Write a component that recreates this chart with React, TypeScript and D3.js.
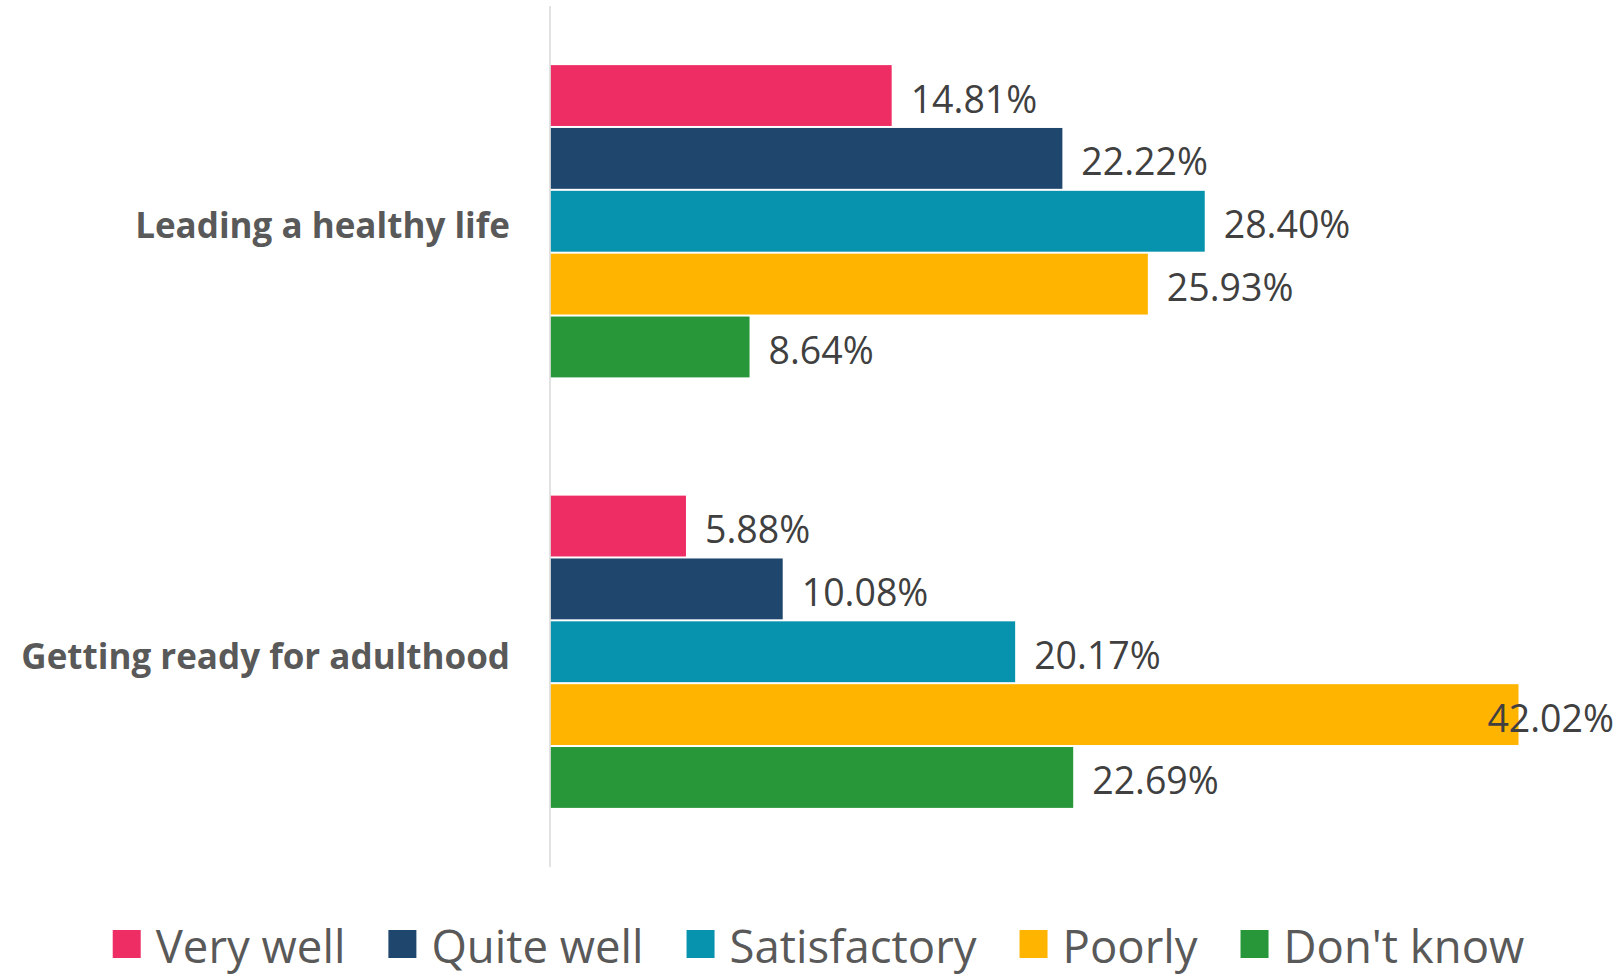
import React, { useEffect, useRef } from "react";
import * as d3 from "d3";

const categories = ["Leading a healthy life", "Getting ready for adulthood"];
const seriesNames = ["Very well", "Quite well", "Satisfactory", "Poorly", "Don't know"];
const veryWell = [14.81, 5.88];
const quiteWell = [22.22, 10.08];
const satisfactory = [28.4, 20.17];
const poorly = [25.93, 42.02];
const dontKnow = [8.64, 22.69];
const seriesColors = ["#EE2D64", "#1F476E", "#0793AD", "#FFB400", "#28973A"];

const W = 1622;
const H = 976;
const FONT = "'Open Sans', sans-serif";

export default function App() {
  const ref = useRef<SVGSVGElement | null>(null);

  useEffect(() => {
    const svg = d3.select(ref.current);
    svg.selectAll("*").remove();
    const seriesValues = [veryWell, quiteWell, satisfactory, poorly, dontKnow];

    const x0 = 550.5;
    const xMax = d3.max(seriesValues.flat()) as number;
    const x = d3.scaleLinear().domain([0, xMax]).range([x0, 1518.5]);
    const y = d3
      .scaleBand<string>()
      .domain(categories)
      .range([6, 867])
      .paddingInner(0.27)
      .paddingOuter(0.135);
    const ys = d3
      .scaleBand<string>()
      .domain(seriesNames)
      .range([0, y.bandwidth()])
      .padding(0);

    const rightLimit = 1614;

    categories.forEach((cat, ci) => {
      const g = svg.append("g").attr("transform", `translate(0,${y(cat)})`);
      seriesNames.forEach((s, si) => {
        const v = seriesValues[si][ci];
        const top = ys(s)!;
        const h = ys.bandwidth();
        g.append("rect")
          .attr("x", x(0))
          .attr("y", top + 1)
          .attr("width", x(v) - x(0))
          .attr("height", h - 2)
          .attr("fill", seriesColors[si]);
        const t = g
          .append("text")
          .attr("x", x(v) + 19)
          .attr("y", top + h / 2 + 17)
          .attr("font-family", FONT)
          .attr("font-size", 37.5)
          .attr("fill", "#404040")
          .text(v.toFixed(2) + "%");
        const tw = (t.node() as SVGTextElement).getComputedTextLength();
        if (x(v) + 19 + tw > rightLimit) {
          t.attr("x", rightLimit).attr("text-anchor", "end");
        }
      });
      svg
        .append("text")
        .attr("x", 510)
        .attr("y", y(cat)! + y.bandwidth() / 2 + 17)
        .attr("text-anchor", "end")
        .attr("font-family", FONT)
        .attr("font-weight", 700)
        .attr("font-size", 35)
        .attr("fill", "#595959")
        .text(cat);
    });

    // axis line
    svg
      .append("line")
      .attr("x1", 550)
      .attr("x2", 550)
      .attr("y1", 6)
      .attr("y2", 867)
      .attr("stroke", "#D9D9D9")
      .attr("stroke-width", 1.5);

    // legend
    const lg = svg.append("g");
    let cx = 0;
    seriesNames.forEach((s, si) => {
      lg.append("rect")
        .attr("x", cx)
        .attr("y", 930)
        .attr("width", 28)
        .attr("height", 28)
        .attr("fill", seriesColors[si]);
      const t = lg
        .append("text")
        .attr("x", cx + 43)
        .attr("y", 963)
        .attr("font-family", FONT)
        .attr("font-size", 45.5)
        .attr("fill", "#595959")
        .text(s);
      const tw = (t.node() as SVGTextElement).getComputedTextLength();
      cx = cx + 43 + tw + 43;
    });
    const total = cx - 43;
    lg.attr("transform", `translate(${818.5 - total / 2},0)`);
  }, []);

  return (
    <svg
      ref={ref}
      width={W}
      height={H}
      style={{ position: "absolute", left: 0, top: 0, background: "#fff" }}
    />
  );
}
